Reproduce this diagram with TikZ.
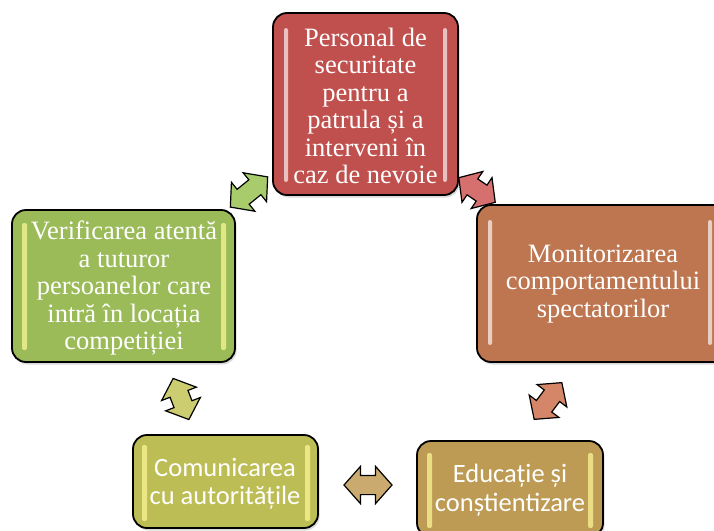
\documentclass[tikz,border=0pt]{standalone}
\usepackage{fontspec}
\setmainfont{Liberation Serif}
\newfontfamily\calib{Carlito}
\usetikzlibrary{shapes.arrows,shadows}
\definecolor{cRed}{RGB}{192,80,77}
\definecolor{cOrange}{RGB}{190,118,80}
\definecolor{cGreen}{RGB}{155,187,89}
\definecolor{cOlive}{RGB}{189,189,85}
\definecolor{cGold}{RGB}{190,155,84}
\definecolor{aGreen}{RGB}{168,204,108}
\definecolor{aRed}{RGB}{214,112,110}
\definecolor{aOlive}{RGB}{204,204,112}
\definecolor{aTan}{RGB}{202,170,110}
\definecolor{aSalmon}{RGB}{214,134,104}
\begin{document}
\begin{tikzpicture}[x=1pt,y=1pt,
  box/.style={draw=black, line width=1.8pt, rounded corners=14pt, inner sep=0pt,
    drop shadow={opacity=0.3,shadow xshift=1.5pt,shadow yshift=-2.5pt}},
  serif/.style={text=white, align=center, inner sep=0pt, font=\fontsize{26.5}{27.5}\selectfont},
  sans/.style={text=white, align=center, inner sep=0pt, font=\calib\fontsize{26.5}{28.5}\selectfont},
  hl/.style={fill=white, opacity=0.65, rounded corners=2pt},
  hly/.style={fill=white!60!yellow, opacity=0.7, rounded corners=2pt},
  dbl/.style={double arrow, draw=black, line width=1.2pt, double arrow head extend=9pt,
    minimum height=48pt, inner xsep=0pt, inner ysep=9pt, double arrow tip angle=97}]
\useasboundingbox (0,0) rectangle (714,-530);
\begin{scope}
\clip (0,0) rectangle (714,-530);
% boxes
\node[box, fill=cRed, minimum width=185pt, minimum height=182pt] (top) at (365.5,-104) {};
\node[box, fill=cOrange, minimum width=252pt, minimum height=157pt] (right) at (603,-283.5) {};
\node[box, fill=cGreen, minimum width=223pt, minimum height=152pt] (left) at (123.5,-286) {};
\node[box, fill=cOlive, minimum width=185pt, minimum height=93pt] (com) at (225.5,-481.5) {};
\node[box, fill=cGold, minimum width=186pt, minimum height=96pt] (edu) at (510,-489) {};
% highlight bars
\fill[hl] (284,-28) rectangle (288,-182);
\fill[hl] (443,-28) rectangle (447,-182);
\fill[hl] (488,-220) rectangle (492,-345);
\fill[hl] (708,-220) rectangle (712,-345);
\fill[hly] (22,-223) rectangle (27,-350);
\fill[hly] (221,-223) rectangle (226,-350);
\fill[hly] (142,-445) rectangle (147,-521);
\fill[hly] (305,-445) rectangle (310,-521);
\fill[hly] (427,-453) rectangle (432,-528);
\fill[hly] (588,-453) rectangle (593,-528);
% texts
\node[serif] (ttop) at (365.5,-106) {Personal de\\securitate\\pentru a\\patrula și a\\interveni în\\caz de nevoie};
\node[serif] (tright) at (603,-284) {Monitorizarea\\comportamentului\\spectatorilor};
\node[serif] (tleft) at (124,-288) {Verificarea atentă\\a tuturor\\persoanelor care\\intră în locația\\competiției};
\node[sans] (tcom) at (225,-484) {Comunicarea\\cu autoritățile};
\node[sans] (tedu) at (510,-490) {Educație și\\conștientizare};
% arrows
\node[dbl, fill=aGreen, rotate=39] (a1) at (249,-192) {};
\node[dbl, fill=aRed, rotate=-34, minimum height=44pt] (a2) at (477,-190) {};
\node[dbl, fill=aOlive, rotate=-69, minimum height=44pt] (a3) at (181,-399) {};
\node[dbl, fill=aTan] (a4) at (368,-485) {};
\node[dbl, fill=aSalmon, rotate=53, minimum height=46pt] (a5) at (548,-401) {};
\end{scope}
\end{tikzpicture}
\end{document}
